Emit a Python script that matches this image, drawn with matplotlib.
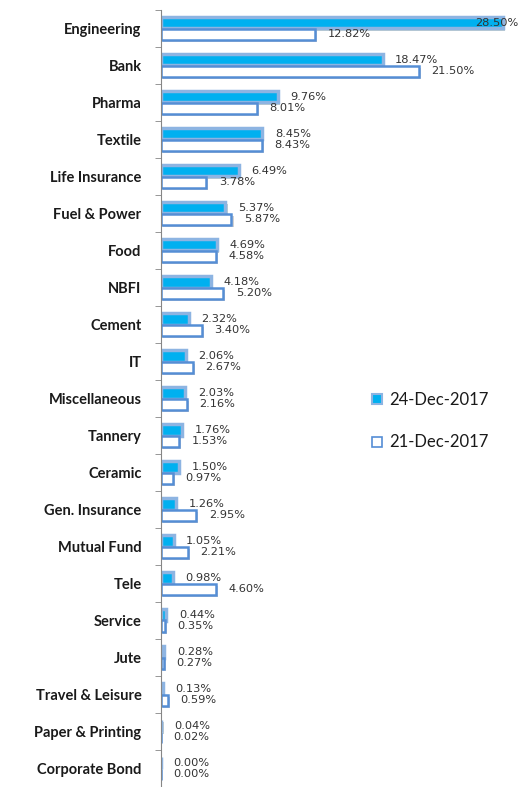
import matplotlib.pyplot as plt
import matplotlib.patheffects as pe
from matplotlib.lines import Line2D
import numpy as np

sectors = ['Engineering', 'Bank', 'Pharma', 'Textile', 'Life Insurance', 'Fuel & Power',
           'Food', 'NBFI', 'Cement', 'IT', 'Miscellaneous', 'Tannery', 'Ceramic',
           'Gen. Insurance', 'Mutual Fund', 'Tele', 'Service', 'Jute',
           'Travel & Leisure', 'Paper & Printing', 'Corporate Bond']
dec24 = [28.50, 18.47, 9.76, 8.45, 6.49, 5.37, 4.69, 4.18, 2.32, 2.06, 2.03,
         1.76, 1.50, 1.26, 1.05, 0.98, 0.44, 0.28, 0.13, 0.04, 0.00]
dec21 = [12.82, 21.50, 8.01, 8.43, 3.78, 5.87, 4.58, 5.20, 3.40, 2.67, 2.16,
         1.53, 0.97, 2.95, 2.21, 4.60, 0.35, 0.27, 0.59, 0.02, 0.00]
labels = ['24-Dec-2017', '21-Dec-2017']

blue = '#00B0F0'
blue_edge = '#8DB4E2'
white_edge = '#558ED5'
txt = '#333333'

fig = plt.figure(figsize=(5.21, 7.87), dpi=100)
ax = fig.add_axes([161 / 521, 0.0, 1 - 161 / 521, 1 - 10 / 787])

y = np.arange(len(sectors))
h = 0.3
shadow = [pe.SimplePatchShadow(offset=(1.5, -1.5), alpha=0.25), pe.Normal()]

b1 = ax.barh(y - h / 2, dec24, height=h, color=blue, edgecolor=blue_edge, linewidth=2.5)
b2 = ax.barh(y + h / 2, dec21, height=h, color='white', edgecolor=white_edge, linewidth=1.8)
for r in list(b1) + list(b2):
    r.set_path_effects(shadow)

ax.set_xlim(0, 30)
ax.set_ylim(len(sectors) - 0.5, -0.5)

xmax = ax.get_xlim()[1]
for vals, off in ((dec24, -h / 2), (dec21, h / 2)):
    for i, v in enumerate(vals):
        s = f'{v:.2f}%'
        if v > xmax - 3:
            ax.annotate(s, (xmax, i + off), xytext=(-2, 0), textcoords='offset points',
                        ha='right', va='center', fontsize=8.2, color=txt,
                        annotation_clip=False)
        else:
            ax.annotate(s, (v, i + off), xytext=(9, 0), textcoords='offset points',
                        ha='left', va='center', fontsize=8.2, color=txt)

for sp in ['top', 'right', 'bottom']:
    ax.spines[sp].set_visible(False)
ax.spines['left'].set_color('#868686')
ax.set_xticks([])
ax.set_yticks(y)
ax.set_yticklabels(sectors, fontfamily='Lato', fontweight='bold', fontsize=10.5, color='#1a1a1a')
ax.tick_params(axis='y', which='major', length=0, pad=14)
ax.set_yticks(np.arange(len(sectors) + 1) - 0.5, minor=True)
ax.tick_params(axis='y', which='minor', length=4, color='#868686')

handles = [Line2D([], [], marker='s', linestyle='', markersize=7.5, markerfacecolor=blue,
                  markeredgecolor=blue_edge, markeredgewidth=1.5),
           Line2D([], [], marker='s', linestyle='', markersize=7.5, markerfacecolor='white',
                  markeredgecolor=white_edge, markeredgewidth=1.2)]
fig.legend(handles, labels, loc='center left', bbox_to_anchor=(0.695, 0.465), frameon=False,
           prop={'family': 'Lato', 'size': 12}, labelspacing=1.6, handlelength=0.8,
           handletextpad=0.3, borderpad=0, labelcolor='#1a1a1a')

fig.savefig('out.png', dpi=100)
